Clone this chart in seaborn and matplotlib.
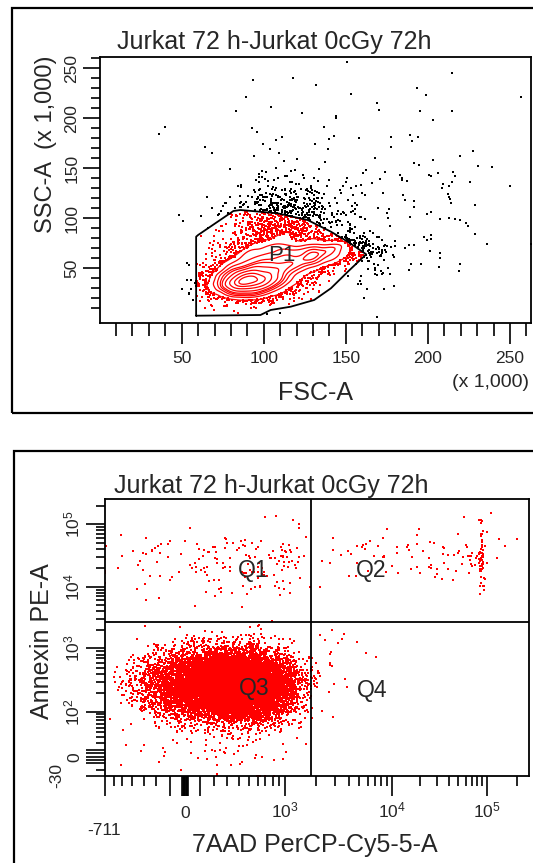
import numpy as np
import pandas as pd
import matplotlib
matplotlib.use("Agg")
import matplotlib.pyplot as plt
import seaborn as sns
from matplotlib.path import Path
from matplotlib.patches import Rectangle
from matplotlib.ticker import FixedLocator, FixedFormatter, NullFormatter
try:
    from scipy.stats import gaussian_kde
except ImportError:
    from seaborn.external.kde import gaussian_kde

sns.set_theme(style="ticks")
plt.rcParams["font.family"] = ["Liberation Sans", "DejaVu Sans"]
plt.rcParams["mathtext.default"] = "regular"
plt.rcParams["axes.linewidth"] = 1.3

W, H = 533, 863
TITLE = "Jurkat 72 h-Jurkat 0cGy 72h"

# ---------------- panel 1 : FSC-A vs SSC-A (x 1,000) ----------------
gate_fsc = [58.8, 58.8, 60.0, 81.5, 85.8, 108.3, 126.7, 140.9, 151.2, 162.4,
            151.2, 140.9, 130.7, 116.4, 104.2, 98.0]
gate_ssc = [2.6, 81.6, 83.3, 107.3, 108.3, 105.0, 98.3, 86.6, 76.6, 64.0,
            46.6, 30.0, 18.3, 11.6, 8.3, 3.3]

# populations: core, shoulder, large-cell tail, granular halo, tip overflow,
#              sparse right, sparse high
p1_fsc_mean = [91, 103, 133, 112, 162, 190, 150]
p1_ssc_mean = [37, 53, 63, 92, 68, 105, 180]
p1_fsc_sd = [11, 15, 12, 18, 10, 40, 50]
p1_ssc_sd = [8, 15, 8, 22, 15, 45, 40]
p1_corr = [0.1, 0.3, 0.5, 0.1, -0.2, 0.1, 0.0]
p1_count = [3500, 3000, 1200, 1000, 120, 90, 55]

fsc_major = [50, 100, 150, 200, 250]
fsc_minor = list(range(10, 261, 10))
ssc_major = [50, 100, 150, 200, 250]
ssc_minor = list(range(10, 261, 10))

# ---------------- panel 2 : 7AAD vs Annexin (biexponential) ----------------
# each population: log-normal part (log10 centre / spread, None = none) + linear noise
q_names = ["Q3", "Q3 low", "Q1", "Q2", "Q2 bright", "Q4"]
q_x_logc = [2.5, None, None, 4.2, 4.95, 3.5]
q_x_logsd = [0.25, 0, 0, 0.5, 0.015, 0.15]
q_x_lin = [0, 300, 500, 0, 0, 0]
q_x_noise = [230, 330, 550, 0, 0, 0]
q_y_logc = [2.43, None, 4.4, 4.55, 4.5, 2.9]
q_y_logsd = [0.26, 0, 0.28, 0.22, 0.25, 0.2]
q_y_lin = [0, 40, 0, 0, 0, 0]
q_y_noise = [12, 45, 0, 0, 0, 0]
q_count = [14000, 120, 170, 90, 55, 18]

gate_7aad = 1770
gate_annexin = 2670

x2_major = [-711, -100, -20, -15, -10, -5, 0, 5, 10, 15, 20, 100, 1000, 10000, 100000]
x2_labels = ["", "", "", "", "", "", "0", "", "", "", "", "", "$10^{3}$", "$10^{4}$", "$10^{5}$"]
x2_minor = ([-600, -500, -400, -300, -200] + list(range(200, 1000, 100))
            + list(range(2000, 10000, 1000)) + list(range(20000, 100000, 10000)) + [200000])
y2_major = [-30, -10, -5, 0, 5, 10, 100, 1000, 10000, 100000]
y2_labels = ["", "", "", "0", "", "", "$10^{2}$", "$10^{3}$", "$10^{4}$", "$10^{5}$"]
y2_minor = ([-20] + list(range(20, 100, 10)) + list(range(200, 1000, 100))
            + list(range(2000, 10000, 1000)) + list(range(20000, 100000, 10000)) + [200000])

# biexponential display scale anchors (value -> display position)
bx_val = [-711, 0, 1000, 1e4, 1e5, 262144]
bx_pos = [105, 185, 285, 391.7, 486.7, 529]
by_val = [-30, 0, 100, 1e3, 1e4, 1e5, 262144]
by_pos = [-775.5, -756.7, -711.7, -648.3, -586.7, -524.3, -499.3]

KDE_BW_ADJ = 0.8
CONTOUR_LEVELS = [0.12, 0.22, 0.33, 0.44, 0.55, 0.66, 0.77, 0.87, 0.95]


def make_biex(vals, pos, c):
    a = np.arcsinh(np.asarray(vals, float) / c)
    p = np.asarray(pos, float)
    s0 = (p[1] - p[0]) / (a[1] - a[0])
    s1 = (p[-1] - p[-2]) / (a[-1] - a[-2])

    def fwd(x):
        u = np.arcsinh(np.asarray(x, float) / c)
        out = np.interp(u, a, p)
        out = np.where(u < a[0], p[0] + (u - a[0]) * s0, out)
        out = np.where(u > a[-1], p[-1] + (u - a[-1]) * s1, out)
        return out

    def inv(y):
        y = np.asarray(y, float)
        u = np.interp(y, p, a)
        u = np.where(y < p[0], a[0] + (y - p[0]) / s0, u)
        u = np.where(y > p[-1], a[-1] + (y - p[-1]) / s1, u)
        return c * np.sinh(np.clip(u, -50, 50))

    return fwd, inv


rng = np.random.default_rng(11)

# ---- build panel 1 events ----
rows = []
for mx, my, sx, sy, r, n in zip(p1_fsc_mean, p1_ssc_mean, p1_fsc_sd, p1_ssc_sd, p1_corr, p1_count):
    cov = [[sx * sx, r * sx * sy], [r * sx * sy, sy * sy]]
    rows.append(rng.multivariate_normal([mx, my], cov, n))
pts = np.vstack(rows)
ev1 = pd.DataFrame({"FSC-A": pts[:, 0], "SSC-A": pts[:, 1]})
gate_path = Path(np.column_stack([gate_fsc, gate_ssc]))
ev1["inP1"] = gate_path.contains_points(ev1[["FSC-A", "SSC-A"]].to_numpy())
in1 = ev1[ev1["inP1"]].reset_index(drop=True)
out1 = ev1[~ev1["inP1"]].reset_index(drop=True)

# P1 events outside the outermost contour are shown as dots
kde = gaussian_kde(in1[["FSC-A", "SSC-A"]].to_numpy().T)
kde.set_bandwidth(kde.factor * KDE_BW_ADJ)
dens = kde(in1[["FSC-A", "SSC-A"]].to_numpy().T)
in1_outliers = in1[dens < np.quantile(dens, CONTOUR_LEVELS[0])]

# ---- build panel 2 events ----
xs, ys = [], []
for i, n in enumerate(q_count):
    xv = rng.normal(q_x_lin[i], q_x_noise[i], n) if q_x_noise[i] else np.full(n, float(q_x_lin[i]))
    if q_x_logc[i] is not None:
        xv = xv + 10 ** rng.normal(q_x_logc[i], q_x_logsd[i], n)
    yv = rng.normal(q_y_lin[i], q_y_noise[i], n) if q_y_noise[i] else np.full(n, float(q_y_lin[i]))
    if q_y_logc[i] is not None:
        yv = yv + 10 ** rng.normal(q_y_logc[i], q_y_logsd[i], n)
    xs.append(xv)
    ys.append(yv)
ev2 = pd.DataFrame({"7AAD": np.clip(np.concatenate(xs), -711, 262143),
                    "Annexin": np.clip(np.concatenate(ys), -30, 262143)})

# ---------------- figure ----------------
fig = plt.figure(figsize=(W / 100, H / 100), dpi=100)
fig.patch.set_facecolor("white")

# outer frames of the two plot windows
fig.add_artist(Rectangle((11.5 / W, 1 - 413 / H), 2, (413 - 8.5) / H,
                         transform=fig.transFigure, fill=False, ec="black", lw=1.6))
fig.add_artist(Rectangle((13.5 / W, -0.5), 2, 0.5 + 1 - 451.5 / H,
                         transform=fig.transFigure, fill=False, ec="black", lw=1.6))

AX1 = (99.6, 530.7, 56.7, 323.3)   # left, right, top, bottom in pixels
AX2 = (105, 529, 499.3, 775.5)
ax1 = fig.add_axes([AX1[0] / W, 1 - AX1[3] / H, (AX1[1] - AX1[0]) / W, (AX1[3] - AX1[2]) / H])
ax2 = fig.add_axes([AX2[0] / W, 1 - AX2[3] / H, (AX2[1] - AX2[0]) / W, (AX2[3] - AX2[2]) / H])


def axfrac(ax_box, px, py):
    l, r, t, b = ax_box
    return (px - l) / (r - l), (b - py) / (b - t)


# ---- panel 1 drawing ----
sns.scatterplot(data=in1_outliers, x="FSC-A", y="SSC-A", color="red", s=3, marker="s",
                linewidth=0, ax=ax1, zorder=1, legend=False)
sns.kdeplot(data=in1, x="FSC-A", y="SSC-A", levels=CONTOUR_LEVELS,
            color="red", linewidths=0.9, bw_adjust=KDE_BW_ADJ, gridsize=130,
            ax=ax1, zorder=3)
sns.scatterplot(data=out1, x="FSC-A", y="SSC-A", color="black", s=3, marker="s",
                linewidth=0, ax=ax1, zorder=4, legend=False)
ax1.plot(gate_fsc + gate_fsc[:1], gate_ssc + gate_ssc[:1], color="black", lw=1.3, zorder=5)
ax1.text(111, 63, "P1", fontsize=16, ha="center", va="center", zorder=6)

ax1.set_xlim(0, 262.6)
ax1.set_ylim(-5, 261.6)
ax1.xaxis.set_major_locator(FixedLocator(fsc_major))
ax1.xaxis.set_minor_locator(FixedLocator(fsc_minor))
ax1.yaxis.set_major_locator(FixedLocator(ssc_major))
ax1.yaxis.set_minor_locator(FixedLocator(ssc_minor))
ax1.xaxis.set_major_formatter(FixedFormatter([str(v) for v in fsc_major]))
ax1.yaxis.set_major_formatter(FixedFormatter([str(v) for v in ssc_major]))
ax1.tick_params(axis="x", which="major", length=15, width=1.2, labelsize=12.5, pad=5, color="black")
ax1.tick_params(axis="x", which="minor", length=9.5, width=1.2, color="black")
ax1.tick_params(axis="y", which="major", length=12, width=1.2, labelsize=12.5, pad=2.5,
                labelrotation=90, color="black")
ax1.tick_params(axis="y", which="minor", length=6.5, width=1.2, color="black")
for lab in ax1.get_yticklabels():
    lab.set_va("center")
ax1.set_xlabel("")
ax1.set_ylabel("")
ax1.text(*axfrac(AX1, 315, 393), "FSC-A", transform=ax1.transAxes,
         ha="center", va="center", fontsize=18)
ax1.text(*axfrac(AX1, 46, 144), "SSC-A  (x 1,000)", transform=ax1.transAxes,
         ha="center", va="center", rotation=90, fontsize=17)
ax1.text(*axfrac(AX1, 490, 382.5), "(x 1,000)", transform=ax1.transAxes,
         ha="center", va="center", fontsize=14)
for sp in ax1.spines.values():
    sp.set_visible(True)
    sp.set_color("black")

# ---- panel 2 drawing ----
fx, ix = make_biex(bx_val, bx_pos, 400.0)
fy, iy = make_biex(by_val, by_pos, 37.0)
ax2.set_xscale("function", functions=(fx, ix))
ax2.set_yscale("function", functions=(fy, iy))
sns.scatterplot(data=ev2, x="7AAD", y="Annexin", color="red", s=4, marker="s",
                linewidth=0, ax=ax2, zorder=1, legend=False)
ax2.axvline(gate_7aad, color="black", lw=1.3, zorder=3)
ax2.axhline(gate_annexin, color="black", lw=1.3, zorder=3)
ax2.set_xlim(-711, 262144)
ax2.set_ylim(-30, 262144)

ax2.xaxis.set_major_locator(FixedLocator(x2_major))
ax2.xaxis.set_major_formatter(FixedFormatter(x2_labels))
ax2.xaxis.set_minor_locator(FixedLocator(x2_minor))
ax2.xaxis.set_minor_formatter(NullFormatter())
ax2.yaxis.set_major_locator(FixedLocator(y2_major))
ax2.yaxis.set_major_formatter(FixedFormatter(y2_labels))
ax2.yaxis.set_minor_locator(FixedLocator(y2_minor))
ax2.yaxis.set_minor_formatter(NullFormatter())
ax2.tick_params(axis="x", which="major", length=14.4, width=1.2, labelsize=12.5, pad=16, color="black")
ax2.tick_params(axis="x", which="minor", length=7.2, width=1.2, color="black")
ax2.tick_params(axis="y", which="major", length=13.7, width=1.2, labelsize=12.5, pad=2.5,
                labelrotation=90, color="black")
ax2.tick_params(axis="y", which="minor", length=6.5, width=1.2, color="black")
for lab in ax2.get_xticklabels():
    lab.set_va("baseline")
for lab in ax2.get_yticklabels():
    lab.set_va("center")
ax2.set_xlabel("")
ax2.set_ylabel("")
ax2.annotate("-711", xy=(-711, 0), xycoords=("data", "axes fraction"), xytext=(-1, -43),
             textcoords="offset points", ha="center", va="baseline", fontsize=12.5, annotation_clip=False)
ax2.annotate("-30", xy=(0, -30), xycoords=("axes fraction", "data"), xytext=(-35, 0),
             textcoords="offset points", ha="center", va="center", rotation=90, fontsize=12.5,
             annotation_clip=False)
ax2.text(*axfrac(AX2, 315, 845), "7AAD PerCP-Cy5-5-A", transform=ax2.transAxes,
         ha="center", va="center", fontsize=18)
ax2.text(*axfrac(AX2, 41.6, 641), "Annexin PE-A", transform=ax2.transAxes,
         ha="center", va="center", rotation=90, fontsize=18)
for name, (px, py) in zip(["Q1", "Q2", "Q3", "Q4"],
                          [(253, 571), (371, 571), (254, 689), (372, 690)]):
    ax2.text(*axfrac(AX2, px, py), name, transform=ax2.transAxes,
             ha="center", va="center", fontsize=16.5, zorder=5)
for sp in ax2.spines.values():
    sp.set_visible(True)
    sp.set_color("black")

fig.text(117 / W, 1 - 41.5 / H, TITLE, ha="left", va="center", fontsize=18)
fig.text(114 / W, 1 - 486 / H, TITLE, ha="left", va="center", fontsize=18)

fig.savefig("out.png", dpi=100, facecolor="white")
